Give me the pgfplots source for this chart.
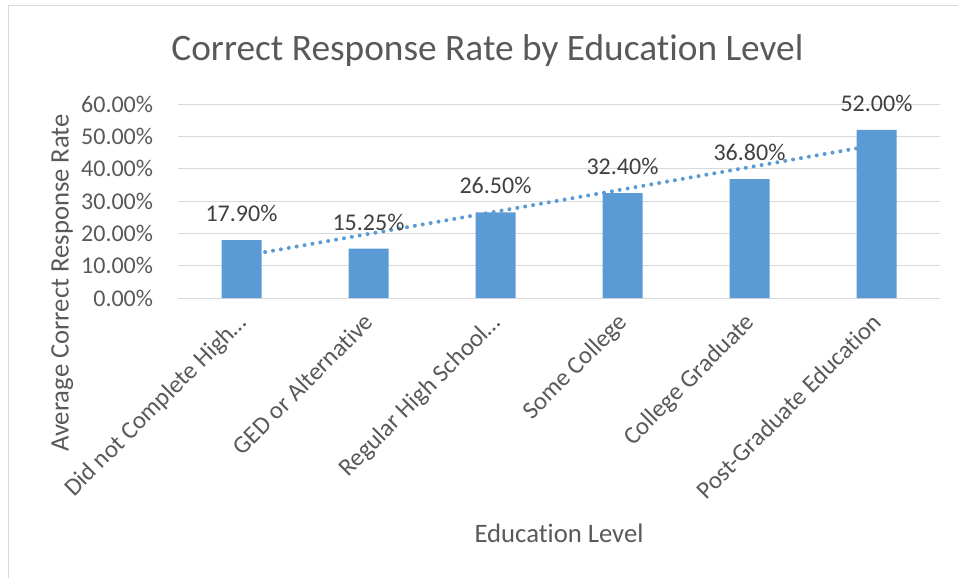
\documentclass[border=0pt]{standalone}
\usepackage{pgfplots}
\pgfplotsset{compat=1.18}
\usepackage{fontspec}
\setmainfont{Carlito}[Ligatures=NoCommon]
\definecolor{barblue}{HTML}{5B9BD5}
\definecolor{gridgray}{HTML}{D9D9D9}
\definecolor{txtgray}{HTML}{595959}
\definecolor{lblgray}{HTML}{404040}
\begin{document}
\begin{tikzpicture}
\useasboundingbox (0,0) rectangle (718.5pt,-433.5pt);
\draw[gridgray, line width=0.75pt] (6pt,-433.5pt) -- (6pt,-3.75pt) -- (718.5pt,-3.75pt);
\begin{axis}[
  at={(133.5pt,-223.5pt)}, anchor=south west,
  scale only axis, width=571.5pt, height=145.5pt,
  xmin=-0.5, xmax=5.5, ymin=0, ymax=60,
  clip=false,
  /pgf/number format/assume math mode=true,
  axis line style={draw=none},
  major tick length=0pt,
  ymajorgrids, grid style={gridgray, line width=0.75pt},
  ytick={0,10,20,30,40,50,60},
  yticklabel={\pgfmathprintnumber[fixed,fixed zerofill,precision=2]{\tick}\%},
  yticklabel style={font=\fontsize{18}{20}\selectfont, text=txtgray, inner sep=0pt, anchor=east, xshift=-18.5pt},
  xtick={0,1,2,3,4,5},
  xticklabels={Did not Complete High…, GED or Alternative, Regular High School…, Some College, College Graduate, Post-Graduate Education},
  xticklabel style={font=\fontsize{18.6}{20}\selectfont, text=txtgray, inner sep=0pt, xshift=-4.5pt, yshift=-10pt, rotate=45, anchor=north east},
  every axis title shift=0pt,
  title={Correct Response Rate by Education Level},
  title style={at={(axis description cs:0.406,1.2268)}, anchor=base, font=\fontsize{28}{32}\selectfont, text=txtgray},
  xlabel={Education Level},
  xlabel style={at={(axis description cs:0.5,-1.211)}, anchor=center, font=\fontsize{20}{24}\selectfont, text=txtgray},
  ylabel={Average Correct Response Rate},
  ylabel style={at={(axis description cs:-0.152,0.077)}, anchor=center, rotate=0, font=\fontsize{20}{24}\selectfont, text=txtgray},
]
% linear trendline (least squares fit of the six values)
\addplot[barblue, line width=3pt, line cap=round, dash pattern=on 0pt off 6pt] coordinates {(0,12.925) (5,47.357)};
\addplot[ybar, bar width=30pt, bar shift=0pt, fill=barblue, draw=none,
  nodes near coords={\pgfmathprintnumber[fixed,fixed zerofill,precision=2]{\pgfplotspointmeta}\%},
  nodes near coords style={font=\fontsize{18}{20}\selectfont, text=lblgray, anchor=base, inner sep=0pt, yshift=13.9pt}]
  coordinates {(0,17.90) (1,15.25) (2,26.50) (3,32.40) (4,36.80) (5,52.00)};
\end{axis}
\end{tikzpicture}
\end{document}
